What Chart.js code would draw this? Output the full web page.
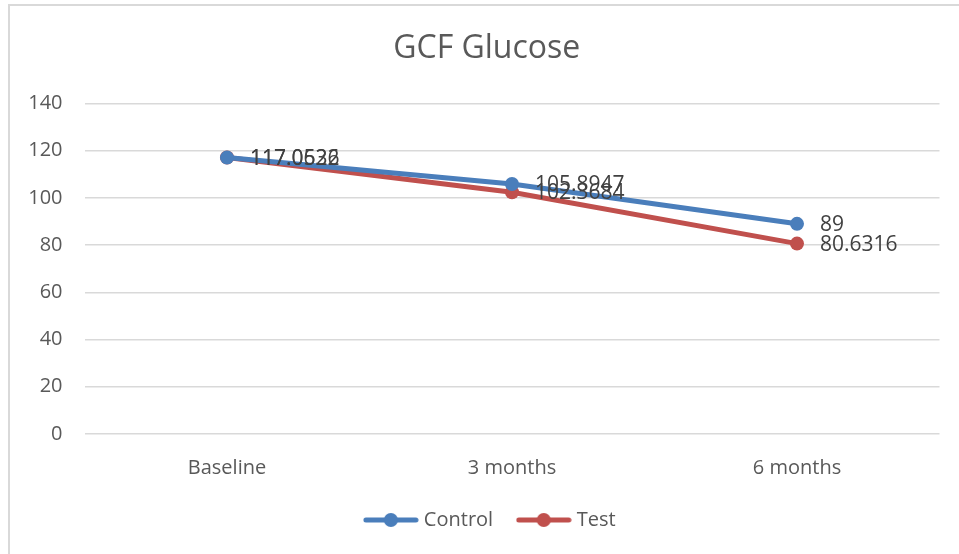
<!DOCTYPE html>
<html>
<head>
<meta charset="utf-8">
<script src="https://cdn.jsdelivr.net/npm/chart.js@4"></script>
<style>
  html, body { margin: 0; padding: 0; background: #fff; }
  #wrap { position: relative; width: 959px; height: 554px; overflow: hidden; }
  #frame { position: absolute; left: 8px; top: 4px; width: 1000px; height: 600px; border-left: 2px solid #d9d9d9; border-top: 2px solid #d9d9d9; box-sizing: border-box; }
  canvas { position: absolute; left: 0; top: 0; }
</style>
</head>
<body>
<div id="wrap">
  <div id="frame"></div>
  <canvas id="c" width="959" height="554"></canvas>
</div>
<script>
const categories = ["Baseline", "3 months", "6 months"];
const controlValues = [117.0526, 105.8947, 89];
const testValues = [117.0632, 102.3684, 80.6316];
const yTicks = [0, 20, 40, 60, 80, 100, 120, 140];

const FONT = "'Open Sans', 'Liberation Sans', sans-serif";
const TXT = "#595959";
const BLUE = "#4a7ebb";
const RED = "#c0504d";

function legendIcon(color) {
  const cv = document.createElement('canvas');
  cv.width = 56; cv.height = 16;
  const g = cv.getContext('2d');
  g.strokeStyle = color; g.lineWidth = 5; g.lineCap = 'round';
  g.beginPath(); g.moveTo(3, 8); g.lineTo(53, 8); g.stroke();
  g.fillStyle = color;
  g.beginPath(); g.arc(28, 8, 7, 0, Math.PI * 2); g.fill();
  return cv;
}

const dataLabels = {
  id: 'dataLabels',
  afterDatasetsDraw(chart) {
    const ctx = chart.ctx;
    ctx.save();
    ctx.font = "21px " + FONT;
    ctx.fillStyle = "#404040";
    ctx.textAlign = 'left';
    ctx.textBaseline = 'middle';
    chart.data.datasets.forEach((ds, i) => {
      chart.getDatasetMeta(i).data.forEach((pt, j) => {
        ctx.fillText(String(ds.data[j]), pt.x + 23, pt.y + 1);
      });
    });
    ctx.restore();
  }
};

const blockShift = {
  id: 'blockShift',
  afterLayout(chart) {
    if (chart.legend) { chart.legend.left += 22; chart.legend.right += 22; }
    if (chart.titleBlock) { chart.titleBlock.left += 17; chart.titleBlock.right += 17; }
  }
};

new Chart(document.getElementById('c'), {
  type: 'line',
  data: {
    labels: categories,
    datasets: [
      { label: 'Control', data: controlValues, borderColor: BLUE, backgroundColor: BLUE,
        borderWidth: 5, pointRadius: 7, pointHoverRadius: 7, pointBorderWidth: 0, tension: 0,
        pointStyle: 'circle' },
      { label: 'Test', data: testValues, borderColor: RED, backgroundColor: RED,
        borderWidth: 5, pointRadius: 7, pointHoverRadius: 7, pointBorderWidth: 0, tension: 0,
        pointStyle: 'circle' }
    ]
  },
  options: {
    responsive: false,
    animation: false,
    events: [],
    layout: { padding: { left: 0, right: 19.5, top: 0, bottom: 14 } },
    plugins: {
      title: { display: true, text: 'GCF Glucose', color: TXT,
        font: { family: FONT, size: 32, weight: 'normal' }, padding: { top: 30, bottom: 35 } },
      legend: {
        position: 'bottom',
        labels: {
          color: TXT, font: { family: FONT, size: 20 }, padding: 12,
          usePointStyle: true, pointStyleWidth: 46, boxHeight: 16,
          generateLabels(chart) {
            const n = chart.data.datasets.length;
            return chart.data.datasets.map((ds, i) => ({
              text: i < n - 1 ? ds.label + '   ' : ds.label,
              fillStyle: ds.borderColor, strokeStyle: ds.borderColor,
              lineWidth: 0, pointStyle: legendIcon(ds.borderColor), datasetIndex: i,
              hidden: false, fontColor: TXT
            }));
          }
        }
      },
      tooltip: { enabled: false }
    },
    scales: {
      x: {
        offset: true,
        grid: { display: false, drawTicks: false, offset: true },
        border: { display: false },
        ticks: { color: TXT, font: { family: FONT, size: 20 }, padding: 22 },
        afterFit(s) { s.height = 64; }
      },
      y: {
        min: 0, max: 140,
        afterBuildTicks(s) { s.ticks = yTicks.map(v => ({ value: v })); },
        grid: { color: '#d9d9d9', lineWidth: 1.5, drawTicks: false },
        border: { display: false },
        ticks: { color: TXT, font: { family: FONT, size: 20 }, padding: 22 },
        afterFit(s) { s.width = 84.5; }
      }
    }
  },
  plugins: [dataLabels, blockShift]
});
</script>
</body>
</html>
